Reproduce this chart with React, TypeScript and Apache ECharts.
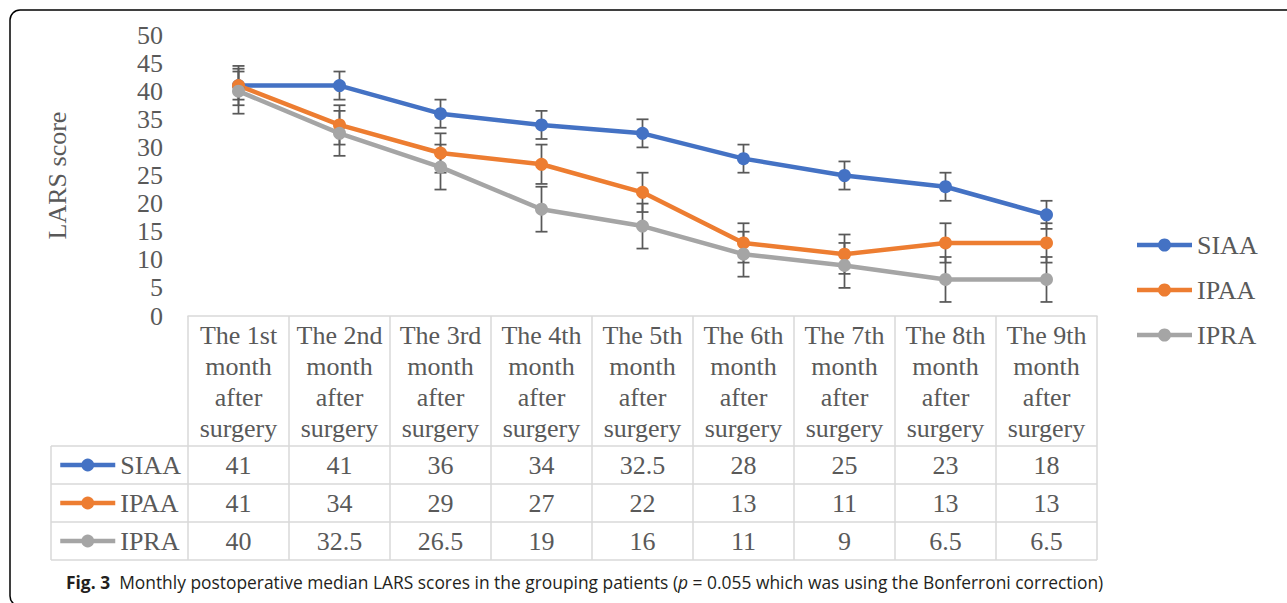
import React, { useEffect, useRef } from "react";
import * as echarts from "echarts";

const categories = [
  "The 1st\nmonth\nafter\nsurgery",
  "The 2nd\nmonth\nafter\nsurgery",
  "The 3rd\nmonth\nafter\nsurgery",
  "The 4th\nmonth\nafter\nsurgery",
  "The 5th\nmonth\nafter\nsurgery",
  "The 6th\nmonth\nafter\nsurgery",
  "The 7th\nmonth\nafter\nsurgery",
  "The 8th\nmonth\nafter\nsurgery",
  "The 9th\nmonth\nafter\nsurgery",
];
const seriesNames = ["SIAA", "IPAA", "IPRA"];
const siaa = [41, 41, 36, 34, 32.5, 28, 25, 23, 18];
const ipaa = [41, 34, 29, 27, 22, 13, 11, 13, 13];
const ipra = [40, 32.5, 26.5, 19, 16, 11, 9, 6.5, 6.5];
const siaaErr = [2.5, 2.5, 2.5, 2.5, 2.5, 2.5, 2.5, 2.5, 2.5];
const ipaaErr = [3.5, 3.5, 3.5, 3.5, 3.5, 3.5, 3.5, 3.5, 3.5];
const ipraErr = [4, 4, 4, 4, 4, 4, 4, 4, 4];
const yTicks = { min: 0, max: 50, interval: 5 };

const COLORS = ["#4472C4", "#ED7D31", "#A5A5A5"];
const TXT = "#595959";
const SERIF = "Liberation Serif";
const SANS = "Open Sans";
const GRID_L = 188;
const GRID_T = 35;
const GRID_W = 909;
const GRID_H = 281;
const HEADER_H = 130;
const ROW_H = 38;
const ROW_LABEL_L = 51;
const TABLE_LINE = "#D9D9D9";
const LEG_X = 1137;
const LEG_Y = 245;
const LEG_STEP = 45;

export default function App() {
  const ref = useRef<HTMLDivElement>(null);
  useEffect(() => {
    if (!ref.current) return;
    const chart = echarts.init(ref.current, null, { renderer: "svg" });
    const values = [siaa, ipaa, ipra];
    const errs = [siaaErr, ipaaErr, ipraErr];

    const lineSeries = values.map((v, k) => ({
      name: seriesNames[k],
      type: "line",
      data: v,
      xAxisIndex: 0,
      yAxisIndex: 0,
      symbol: "circle",
      symbolSize: 13,
      z: 3,
      lineStyle: { color: COLORS[k], width: 4.5 },
      itemStyle: { color: COLORS[k] },
    }));

    const errSeries = values.map((v, k) => ({
      name: seriesNames[k] + " error",
      type: "custom",
      xAxisIndex: 0,
      yAxisIndex: 0,
      z: 1,
      silent: true,
      data: v.map((val, i) => [i, val - errs[k][i], val + errs[k][i]]),
      renderItem: (params: any, api: any) => {
        const x = api.value(0);
        const top = api.coord([x, api.value(2)]);
        const bot = api.coord([x, api.value(1)]);
        const w = 6;
        const style = { stroke: "#595959", lineWidth: 1.75 };
        return {
          type: "group",
          children: [
            { type: "line", shape: { x1: top[0], y1: top[1], x2: bot[0], y2: bot[1] }, style },
            { type: "line", shape: { x1: top[0] - w, y1: top[1], x2: top[0] + w, y2: top[1] }, style },
            { type: "line", shape: { x1: bot[0] - w, y1: bot[1], x2: bot[0] + w, y2: bot[1] }, style },
          ],
        };
      },
      encode: { x: 0, y: [1, 2] },
    }));

    const rowAxes = values.map((v, k) => ({
      type: "category",
      gridIndex: 0,
      data: categories,
      position: "bottom",
      offset: HEADER_H + ROW_H * k,
      axisLine: { show: false },
      axisTick: { show: false },
      axisLabel: {
        interval: 0,
        margin: 0,
        formatter: (_val: string, idx: number) => String(v[idx]),
        fontSize: 26,
        lineHeight: ROW_H,
        color: TXT,
        fontFamily: SERIF,
      },
    }));

    // table borders
    const colW = GRID_W / categories.length;
    const bottomY = GRID_T + GRID_H;
    const tableBottom = bottomY + HEADER_H + ROW_H * 3;
    const borders: any[] = [];
    for (let i = 0; i <= categories.length; i++) {
      const x = GRID_L + colW * i;
      borders.push({
        type: "line",
        shape: { x1: x, y1: bottomY, x2: x, y2: tableBottom },
        style: { stroke: TABLE_LINE, lineWidth: 1.5 },
      });
    }
    borders.push({
      type: "line",
      shape: { x1: ROW_LABEL_L, y1: bottomY + HEADER_H, x2: ROW_LABEL_L, y2: tableBottom },
      style: { stroke: TABLE_LINE, lineWidth: 1.5 },
    });
    for (let r = 0; r <= 3; r++) {
      const y = bottomY + HEADER_H + ROW_H * r;
      borders.push({
        type: "line",
        shape: { x1: ROW_LABEL_L, y1: y, x2: GRID_L + GRID_W, y2: y },
        style: { stroke: TABLE_LINE, lineWidth: 1.5 },
      });
    }

    // right-hand legend (drawn as graphic)
    const rightLegend: any[] = [];
    seriesNames.forEach((name, k) => {
      const y = LEG_Y + LEG_STEP * k;
      rightLegend.push(
        {
          type: "line",
          shape: { x1: LEG_X, y1: y, x2: LEG_X + 55, y2: y },
          style: { stroke: COLORS[k], lineWidth: 4.5 },
        },
        {
          type: "circle",
          shape: { cx: LEG_X + 27.5, cy: y, r: 6.5 },
          style: { fill: COLORS[k] },
        },
        {
          type: "text",
          x: LEG_X + 60,
          y,
          style: {
            text: name,
            font: "26px 'Liberation Serif', 'Times New Roman', serif",
            fill: TXT,
            verticalAlign: "middle",
            align: "left",
          },
        }
      );
    });

    const legendText = () => ({ fontSize: 26, lineHeight: 26, color: TXT, fontFamily: SERIF });

    chart.setOption({
      animation: false,
      backgroundColor: "#ffffff",
      textStyle: { fontFamily: SERIF },
      grid: {
        left: GRID_L,
        top: GRID_T,
        width: GRID_W,
        height: GRID_H,
        containLabel: false,
        outerBoundsMode: "none",
      },
      legend: {
        orient: "vertical",
        left: 58,
        top: bottomY + HEADER_H + 6,
        itemGap: ROW_H - 26,
        itemWidth: 55,
        itemHeight: 16,
        padding: 0,
        selectedMode: false,
        lineStyle: { width: 4.5 },
        textStyle: legendText(),
        data: seriesNames.map((name) => ({ name, textStyle: legendText() })),
      },
      xAxis: [
        {
          type: "category",
          data: categories,
          position: "bottom",
          axisLine: { show: true, lineStyle: { color: TABLE_LINE, width: 1.5 } },
          axisTick: { show: false },
          axisLabel: {
            interval: 0,
            margin: 4,
            fontSize: 26,
            lineHeight: 31,
            color: TXT,
            fontFamily: SERIF,
          },
        },
        ...rowAxes,
      ],
      yAxis: {
        type: "value",
        min: yTicks.min,
        max: yTicks.max,
        interval: yTicks.interval,
        name: "LARS score",
        nameLocation: "middle",
        nameRotate: 90,
        nameGap: 118,
        nameTextStyle: { fontSize: 26, color: TXT, fontFamily: SERIF },
        axisLine: { show: false },
        axisTick: { show: false },
        splitLine: { show: false },
        axisLabel: { fontSize: 26, color: TXT, fontFamily: SERIF, margin: 25 },
      },
      series: [...errSeries, ...lineSeries],
      graphic: [
        {
          type: "rect",
          shape: { x: 10, y: 10, width: 1300, height: 596, r: 10 },
          style: { fill: "none", stroke: "#000000", lineWidth: 1.5 },
          silent: true,
        },
        ...borders,
        ...rightLegend,
        {
          type: "text",
          x: 66,
          y: 582,
          style: {
            text: "{b|Fig. 3}  Monthly postoperative median LARS scores in the grouping patients ({i|p} = 0.055 which was using the Bonferroni correction)",
            fontSize: 17.4,
            fontFamily: SANS,
            fill: "#231F20",
            verticalAlign: "middle",
            rich: {
              b: { fontWeight: "bold", fontSize: 17.4, fontFamily: SANS, fill: "#231F20" },
              i: { fontStyle: "italic", fontSize: 17.4, fontFamily: SANS, fill: "#231F20" },
            },
          },
        },
      ],
    });
    return () => chart.dispose();
  }, []);
  return (
    <div
      ref={ref}
      style={{ position: "absolute", left: 0, top: 0, width: 1287, height: 603, background: "#fff" }}
    />
  );
}
